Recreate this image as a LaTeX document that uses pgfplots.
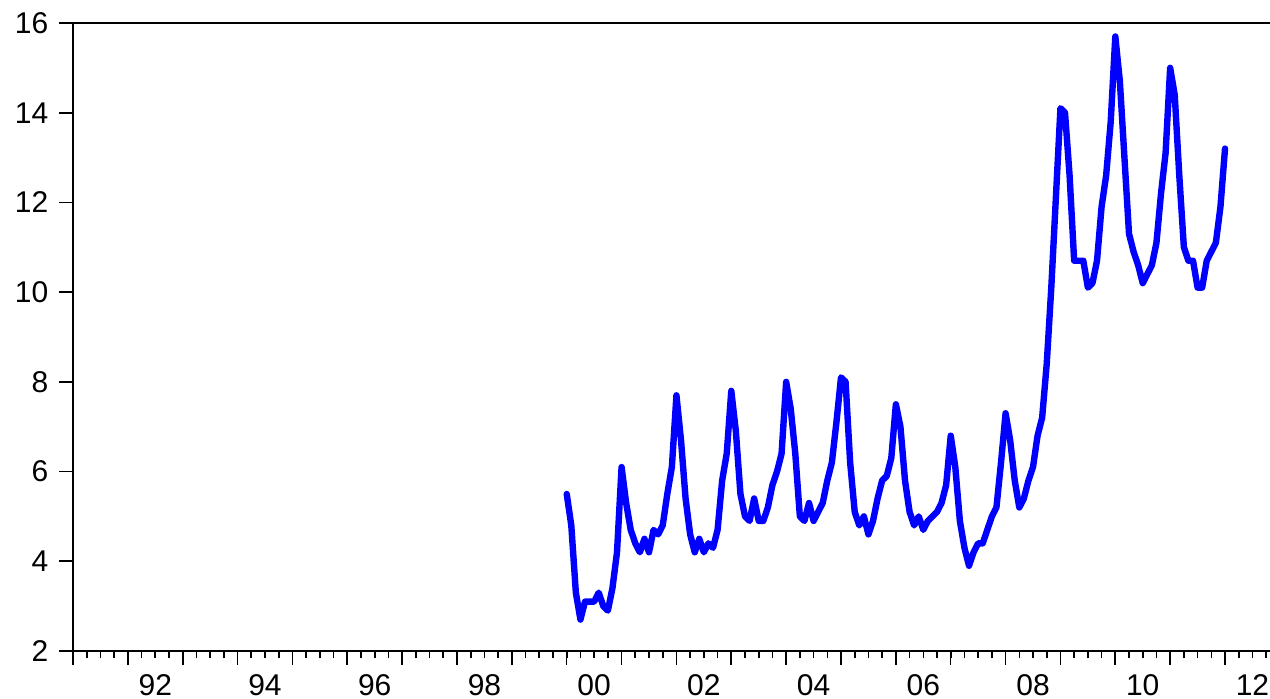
\documentclass[border=0pt]{standalone}
\usepackage{fontspec}
\setmainfont{Liberation Sans}
\usepackage{pgfplots}
\usepackage{pgfplotstable}
\pgfplotsset{compat=1.18}
\pgfplotstableread{
t v
0 5.5
1 4.8
2 3.3
3 2.7
4 3.1
5 3.1
6 3.1
7 3.3
8 3.0
9 2.9
10 3.4
11 4.2
12 6.1
13 5.3
14 4.7
15 4.4
16 4.2
17 4.5
18 4.2
19 4.7
20 4.6
21 4.8
22 5.5
23 6.1
24 7.7
25 6.7
26 5.4
27 4.6
28 4.2
29 4.5
30 4.2
31 4.4
32 4.3
33 4.7
34 5.8
35 6.4
36 7.8
37 6.9
38 5.5
39 5.0
40 4.9
41 5.4
42 4.9
43 4.9
44 5.2
45 5.7
46 6.0
47 6.4
48 8.0
49 7.4
50 6.4
51 5.0
52 4.9
53 5.3
54 4.9
55 5.1
56 5.3
57 5.8
58 6.2
59 7.1
60 8.1
61 8.0
62 6.2
63 5.1
64 4.8
65 5.0
66 4.6
67 4.9
68 5.4
69 5.8
70 5.9
71 6.3
72 7.5
73 7.0
74 5.8
75 5.1
76 4.8
77 5.0
78 4.7
79 4.9
80 5.0
81 5.1
82 5.3
83 5.7
84 6.8
85 6.1
86 4.9
87 4.3
88 3.9
89 4.2
90 4.4
91 4.4
92 4.7
93 5.0
94 5.2
95 6.2
96 7.3
97 6.7
98 5.8
99 5.2
100 5.4
101 5.8
102 6.1
103 6.8
104 7.2
105 8.4
106 10.1
107 12.1
108 14.1
109 14.0
110 12.6
111 10.7
112 10.7
113 10.7
114 10.1
115 10.2
116 10.7
117 11.9
118 12.6
119 13.8
120 15.7
121 14.7
122 13.0
123 11.3
124 10.9
125 10.6
126 10.2
127 10.4
128 10.6
129 11.1
130 12.2
131 13.1
132 15.0
133 14.4
134 12.6
135 11.0
136 10.7
137 10.7
138 10.1
139 10.1
140 10.7
141 10.9
142 11.1
143 11.9
144 13.2
}\series
\begin{document}
\begin{tikzpicture}
\begin{axis}[
  at={(0pt,0pt)}, anchor=south west,
  width=598.5pt, height=314pt, scale only axis,
  xmin=1991, xmax=2012.82, ymin=2, ymax=16,
  axis y line*=left, axis x line*=box,
  axis line style={line width=1pt, black},
  tick style={line width=0.8pt, black},
  tick align=outside,
  xtick pos=bottom, ytick pos=left,
  xtick={1991,1992,...,2012},
  xticklabel=\empty,
  minor xtick={1991,1991.25,...,2012.8},
  major tick length=6.8pt, minor tick length=3.6pt,
  extra x ticks={1992.5,1994.5,1996.5,1998.5,2000.5,2002.5,2004.5,2006.5,2008.5,2010.5,2012.5},
  extra x tick labels={92,94,96,98,00,02,04,06,08,10,12},
  extra x tick style={major tick length=0pt},
  ytick={2,4,...,16},
  /pgf/number format/assume math mode=true,
  ticklabel style={font=\fontsize{15}{17}\selectfont},
  xticklabel style={anchor=north, yshift=-8pt},
  yticklabel style={anchor=east, xshift=-2pt},
  clip=true,
]
\addplot[color={rgb,255:red,0;green,0;blue,255}, line width=3.2pt, line join=round, line cap=round, mark=none]
  table[x expr={2000+\thisrow{t}/12}, y=v] {\series};
\end{axis}
\pgfresetboundingbox
\path[use as bounding box] (-36.5pt,-24pt) rectangle (598.5pt,325.5pt);
\end{tikzpicture}
\end{document}
